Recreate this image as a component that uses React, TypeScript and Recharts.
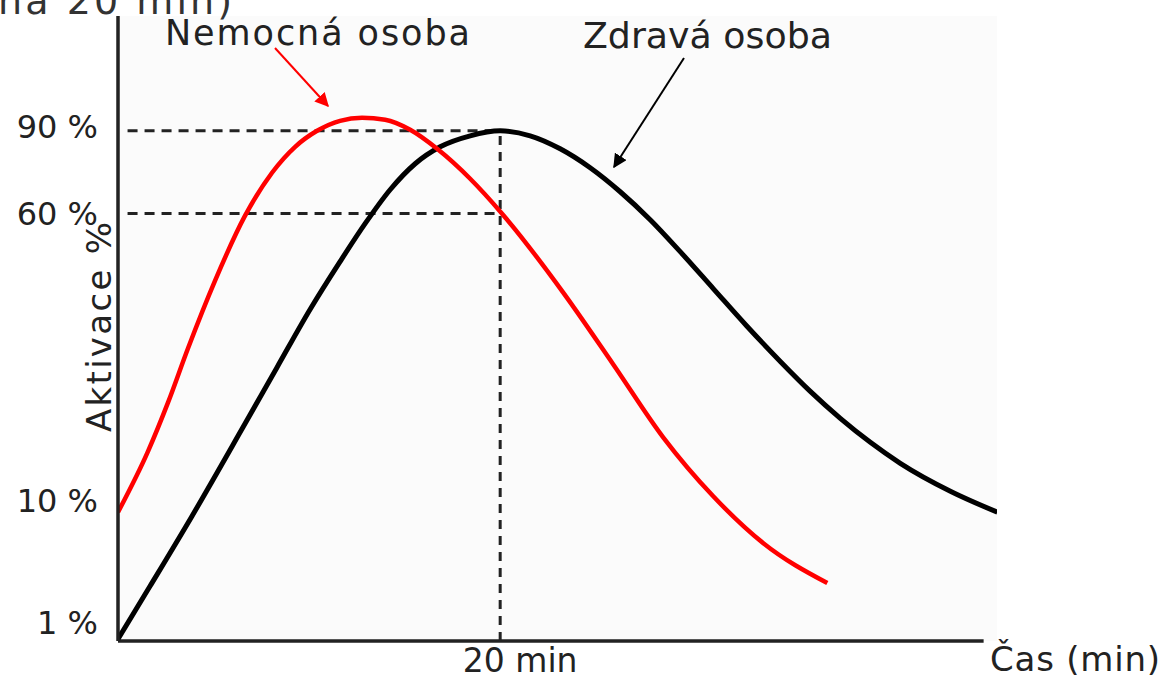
import React from 'react';
import { LineChart, Line, XAxis, YAxis, ReferenceLine, ReferenceArea } from 'recharts';

// time in minutes, activation on the sketch's own (non-linear) scale
const healthyTime = [0, 1.68, 3.87, 6.54, 8.32, 10.05, 11.62, 12.93, 14.24, 15.55, 16.86, 18.43, 20.0, 21.57, 23.14, 24.71, 26.28, 27.85, 29.42, 31.15, 32.88, 34.66, 36.23, 37.8, 39.37, 40.94, 43.56, 46.02];
const healthyLevel = [0.32, 8.79, 19.97, 34.19, 43.77, 53.04, 60.7, 66.77, 72.2, 76.36, 79.07, 80.83, 81.63, 80.83, 78.75, 75.72, 71.88, 67.41, 62.3, 56.39, 50.48, 44.73, 39.94, 35.62, 31.79, 28.43, 23.96, 20.61];

const sickTime = [0, 1.57, 2.62, 3.66, 5.08, 6.65, 8.06, 9.27, 10.42, 11.62, 12.77, 13.98, 15.29, 16.7, 18.43, 20.1, 23.3, 25.92, 28.53, 31.15, 33.77, 37.12];
const sickLevel = [20.61, 30.35, 38.18, 46.81, 57.67, 68.05, 74.92, 79.07, 81.63, 83.23, 83.71, 83.39, 81.79, 78.75, 73.96, 68.37, 55.75, 44.25, 32.59, 23.16, 15.65, 9.27];

const yTickValues = [3, 22.5, 68.4, 82.4];
const yTickLabels = ['1 %', '10 %', '60 %', '90 %'];
const xTickValues = [20];
const xTickLabels = ['20 min'];

const refTime = 20;
const healthyPeak = 81.63;
const sickAtRef = 68.4;
const axisEnd = 45.3;

const healthy = healthyTime.map((t, i) => ({ t, v: healthyLevel[i] }));
const sick = sickTime.map((t, i) => ({ t, v: sickLevel[i] }));

const FONT = "'DejaVu Sans', sans-serif";
const INK = '#222';

const YTick = (props: any) => {
  const { x, y, payload } = props;
  const idx = yTickValues.indexOf(payload.value);
  return (
    <text x={x} y={y} dy="0.36em" textAnchor="end" fontFamily={FONT} fontSize={32} fill={INK}>
      {yTickLabels[idx]}
    </text>
  );
};

const XTick = (props: any) => {
  const { x, y, payload } = props;
  const idx = xTickValues.indexOf(payload.value);
  return (
    <text x={x + 20} y={y + 31} textAnchor="middle" fontFamily={FONT} fontSize={33} fill={INK}>
      {xTickLabels[idx]}
    </text>
  );
};

export default function App() {
  return (
    <div style={{ position: 'absolute', left: 0, top: 0, width: 1165, height: 680, background: '#fff' }}>
      <LineChart width={1165} height={680} margin={{ top: 16, right: 168, bottom: 0, left: 0 }}>
        <ReferenceArea x1={0} x2={46} y1={0} y2={100} fill="#fbfbfb" fillOpacity={1} stroke="none" />
        <XAxis
          type="number"
          dataKey="t"
          domain={[0, 46]}
          ticks={xTickValues}
          tick={<XTick />}
          axisLine={false}
          tickLine={false}
          tickSize={0}
          tickMargin={0}
          height={39}
          allowDataOverflow
        />
        <YAxis
          type="number"
          dataKey="v"
          domain={[0, 100]}
          ticks={yTickValues}
          tick={<YTick />}
          axisLine={{ stroke: INK, strokeWidth: 3.5 }}
          tickLine={false}
          tickSize={0}
          tickMargin={20}
          width={118}
          allowDataOverflow
        />
        <ReferenceLine segment={[{ x: 0, y: 0 }, { x: axisEnd, y: 0 }]} stroke={INK} strokeWidth={3.5} />
        <ReferenceLine segment={[{ x: 0.5, y: healthyPeak }, { x: refTime, y: healthyPeak }]} stroke={INK} strokeWidth={3} strokeDasharray="10 7" />
        <ReferenceLine segment={[{ x: 0.5, y: sickAtRef }, { x: refTime, y: sickAtRef }]} stroke={INK} strokeWidth={3} strokeDasharray="10 7" />
        <ReferenceLine segment={[{ x: refTime, y: 0 }, { x: refTime, y: healthyPeak }]} stroke={INK} strokeWidth={3} strokeDasharray="9 7" />
        <Line data={healthy} dataKey="v" type="monotone" stroke="#000" strokeWidth={5} dot={false} isAnimationActive={false} />
        <Line data={sick} dataKey="v" type="monotone" stroke="#ff0000" strokeWidth={4.5} dot={false} isAnimationActive={false} />
      </LineChart>
      <svg width={1165} height={680} style={{ position: 'absolute', left: 0, top: 0, pointerEvents: 'none' }}>
        <defs>
          <marker id="arrRed" viewBox="0 0 10 10" refX="9" refY="5" markerWidth="7" markerHeight="7" orient="auto">
            <path d="M0,0 L10,5 L0,10 z" fill="#ff0000" />
          </marker>
          <marker id="arrBlack" viewBox="0 0 10 10" refX="9" refY="5" markerWidth="7" markerHeight="7" orient="auto">
            <path d="M0,0 L10,5 L0,10 z" fill="#000" />
          </marker>
        </defs>
        <text x={-2} y={14} fontFamily={FONT} fontSize={38} fill="#333" textLength={234} lengthAdjust="spacing">na 20 min)</text>
        <text x={165} y={45} fontFamily={FONT} fontSize={35} fill={INK} textLength={305} lengthAdjust="spacing">Nemocná osoba</text>
        <text x={583} y={48} fontFamily={FONT} fontSize={35} fill={INK} textLength={249} lengthAdjust="spacingAndGlyphs">Zdravá osoba</text>
        <text x={990} y={671} fontFamily={FONT} fontSize={34} fill={INK} textLength={170} lengthAdjust="spacing">Čas (min)</text>
        <text
          x={111}
          y={327}
          transform="rotate(-90 111 327)"
          textAnchor="middle"
          fontFamily={FONT}
          fontSize={34}
          fill={INK}
          textLength={210}
          lengthAdjust="spacing"
        >
          Aktivace %
        </text>
        <line x1={275} y1={48} x2={328} y2={106} stroke="#ff0000" strokeWidth={2} markerEnd="url(#arrRed)" />
        <line x1={684} y1={58} x2={614} y2={167} stroke="#000" strokeWidth={2} markerEnd="url(#arrBlack)" />
      </svg>
    </div>
  );
}
